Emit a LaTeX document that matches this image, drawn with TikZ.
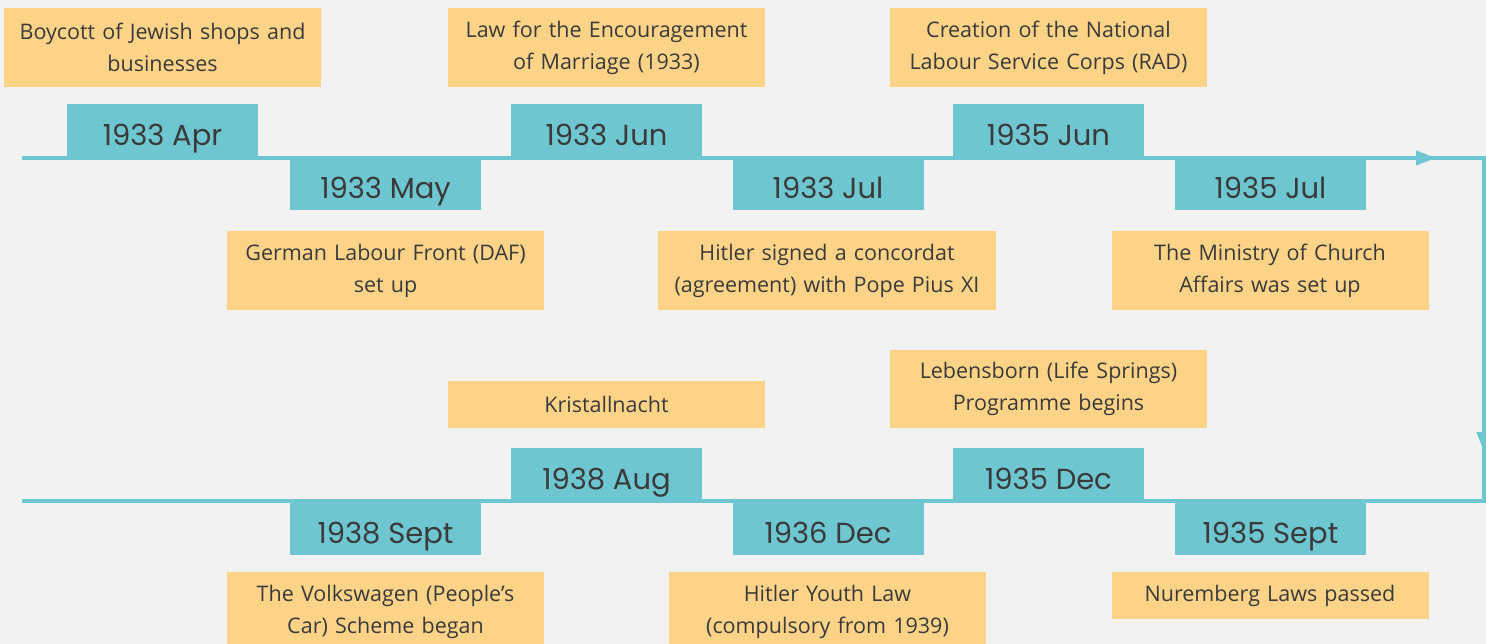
\documentclass[tikz,border=0pt]{standalone}
\usepackage{fontspec}
\setmainfont{Open Sans}
\newfontfamily\datefont{Poppins}
\usetikzlibrary{arrows.meta}
\definecolor{bg}{HTML}{F2F2F2}
\definecolor{teal}{HTML}{6EC6D0}
\definecolor{yel}{HTML}{FDD388}
\definecolor{txt}{HTML}{3A3A3A}
\begin{document}
\begin{tikzpicture}[x=1pt,y=-1pt,
  datebox/.style={fill=teal, minimum width=191pt, minimum height=53pt, inner sep=0pt,
    text height=30pt, text depth=0pt,
    font=\datefont\fontsize{29}{32}\selectfont, text=txt},
  ybox/.style={fill=yel, minimum width=317pt, minimum height=79pt, inner sep=0pt,
    text width=314pt, align=center, font=\fontsize{21.5}{32}\selectfont, text=txt},
  tline/.style={draw=teal, line width=4pt},
  tip/.style={-{Triangle[length=20pt,width=14pt]}}]
\fill[bg] (0,0) rectangle (1486,644);
\useasboundingbox (0,0) rectangle (1486,644);
% timeline path
\coordinate (s1) at (22,158);
\coordinate (a1) at (1436,158);
\coordinate (b1) at (1400,158);
\coordinate (c1) at (1484,158);
\coordinate (b2) at (1484,410);
\coordinate (a2) at (1484,452);
\coordinate (c2) at (1484,501);
\coordinate (s2) at (22,501);
\draw[tline] (s1) -- (c1) -- (c2) -- (s2);
\draw[tline,tip] (b1) -- (a1);
\draw[tline,tip] (b2) -- (a2);
% top row dates
\node[datebox] (d1) at (162.5,131) {1933 Apr};
\node[datebox] (d2) at (385.5,184) {1933 May};
\node[datebox] (d3) at (606.5,131) {1933 Jun};
\node[datebox] (d4) at (828,184) {1933 Jul};
\node[datebox] (d5) at (1048.5,131) {1935 Jun};
\node[datebox] (d6) at (1270.5,184) {1935 Jul};
% bottom row dates
\node[datebox] (d7) at (606.5,474) {1938 Aug};
\node[datebox] (d8) at (385.5,528) {1938 Sept};
\node[datebox] (d9) at (1048.5,474) {1935 Dec};
\node[datebox] (d10) at (828,528) {1936 Dec};
\node[datebox] (d11) at (1270.5,528) {1935 Sept};
% event boxes top
\node[ybox] (e1) at (162.5,47.5) {Boycott of Jewish shops and\\businesses};
\node[ybox] (e3) at (606.5,47.5) {Law for the Encouragement\\of Marriage (1933)};
\node[ybox] (e5) at (1048.5,47.5) {Creation of the National\\Labour Service Corps (RAD)};
\node[ybox] (e2) at (385.5,270.5) {German Labour Front (DAF)\\set up};
\node[ybox, minimum width=338pt, text width=334pt] (e4) at (827,270.5) {Hitler signed a concordat\\(agreement) with Pope Pius XI};
\node[ybox] (e6) at (1270,270.5) {The Ministry of Church\\Affairs was set up};
% event boxes bottom
\node[ybox, minimum height=47pt] (e7) at (606.5,404.5) {Kristallnacht};
\node[ybox, minimum height=78pt] (e9) at (1048.5,389) {Lebensborn (Life Springs)\\Programme begins};
\node[ybox] (e8) at (385.5,611.5) {The Volkswagen (People’s\\Car) Scheme began};
\node[ybox] (e10) at (827.5,611.5) {Hitler Youth Law\\(compulsory from 1939)};
\node[ybox, minimum height=47pt] (e11) at (1270,595.5) {Nuremberg Laws passed};
\end{tikzpicture}
\end{document}
